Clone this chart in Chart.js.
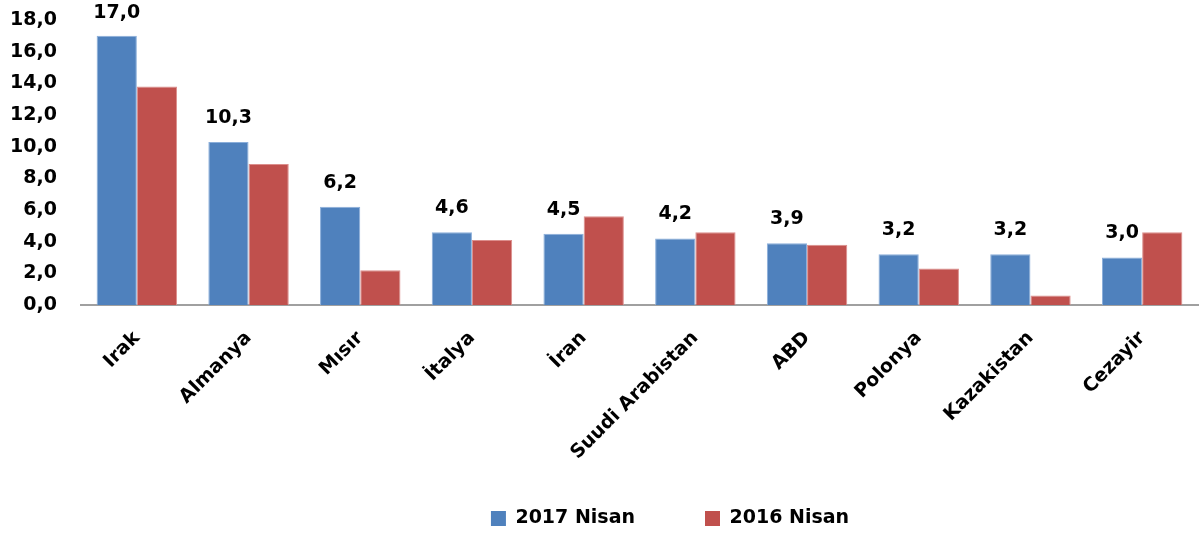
<!DOCTYPE html>
<html>
<head>
<meta charset="utf-8">
<script src="https://cdn.jsdelivr.net/npm/chart.js@4/dist/chart.umd.min.js"></script>
<style>
  html, body { margin: 0; padding: 0; background: #fff; }
  #wrap { width: 1200px; height: 538px; }
</style>
</head>
<body>
<div id="wrap"><canvas id="chart" width="1200" height="538"></canvas></div>
<script>
// veriler
const countries = ["Irak", "Almanya", "Mısır", "İtalya", "İran", "Suudi Arabistan", "ABD", "Polonya", "Kazakistan", "Cezayir"];
const seriesNames = ["2017 Nisan", "2016 Nisan"];
const values2017 = [17.0, 10.3, 6.2, 4.6, 4.5, 4.2, 3.9, 3.2, 3.2, 3.0];
const values2016 = [13.8, 8.9, 2.2, 4.1, 5.6, 4.6, 3.8, 2.3, 0.6, 4.6];
const yMin = 0, yMax = 18, yStep = 2;

const FONT = "'DejaVu Sans', sans-serif";
const fmt = v => v.toFixed(1).replace(".", ",");

// sadece 2017 çubuklarının üstüne değer yaz
const valueLabels = {
  id: "valueLabels",
  afterDatasetsDraw(chart) {
    const ctx = chart.ctx;
    const meta = chart.getDatasetMeta(0);
    ctx.save();
    ctx.font = "bold 19px " + FONT;
    ctx.fillStyle = "#000";
    ctx.textAlign = "center";
    ctx.textBaseline = "middle";
    meta.data.forEach((bar, i) => {
      const y = Math.max(bar.y - 24, 13);
      ctx.fillText(fmt(values2017[i]), bar.x, y);
    });
    ctx.restore();
  }
};

// lejantı biraz sağa ve aşağı kaydır
const legendShift = {
  id: "legendShift",
  afterLayout(chart) {
    const lg = chart.legend;
    if (!lg) return;
    lg.left += 71;
    lg.right += 71;
    lg.top = 439;
    lg.bottom = 538;
  }
};

new Chart(document.getElementById("chart"), {
  type: "bar",
  data: {
    labels: countries,
    datasets: [
      { label: seriesNames[0], data: values2017, backgroundColor: "#4F81BD", borderColor: "#8AAEDA", borderWidth: 1 },
      { label: seriesNames[1], data: values2016, backgroundColor: "#C0504D", borderColor: "#DC8E8C", borderWidth: 1 }
    ]
  },
  options: {
    responsive: false,
    animation: false,
    events: [],
    layout: { padding: { top: 20, right: 2, left: 0, bottom: 0 } },
    datasets: { bar: { categoryPercentage: 0.72, barPercentage: 1.0 } },
    scales: {
      x: {
        grid: { display: false, drawTicks: false },
        border: { display: true, color: "#a0a0a0", width: 2 },
        ticks: {
          color: "#000",
          font: { family: FONT, size: 19, weight: "bold" },
          minRotation: 45,
          maxRotation: 45,
          autoSkip: false,
          padding: 22
        },
        afterFit(scale) { scale.height = 193; }
      },
      y: {
        min: yMin,
        max: yMax,
        grid: { display: false, drawTicks: false },
        border: { display: false },
        ticks: {
          stepSize: yStep,
          color: "#000",
          padding: 24,
          font: { family: FONT, size: 19, weight: "bold" },
          callback: v => fmt(v)
        },
        afterFit(scale) {
          scale.width = 81;
          scale.paddingTop = 10;
          scale.paddingBottom = 10;
        }
      }
    },
    plugins: {
      tooltip: { enabled: false },
      legend: {
        position: "bottom",
        maxHeight: 40,
        labels: {
          color: "#000",
          boxWidth: 15,
          boxHeight: 15,
          padding: 70,
          font: { family: FONT, size: 19, weight: "bold" },
          generateLabels(chart) {
            return chart.data.datasets.map((ds, i) => ({
              text: ds.label,
              fillStyle: ds.backgroundColor,
              strokeStyle: ds.backgroundColor,
              lineWidth: 0,
              fontColor: "#000",
              datasetIndex: i
            }));
          }
        }
      }
    }
  },
  plugins: [valueLabels, legendShift]
});
</script>
</body>
</html>
